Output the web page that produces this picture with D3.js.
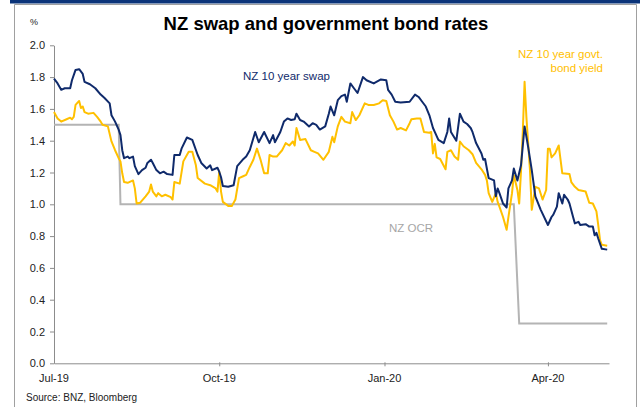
<html>
  <head>
    <script src="https://d3js.org/d3.v7.min.js"></script>
    <style>
      body { margin: 0; background: #fff; }
      text { font-family: Arial, "Liberation Sans", sans-serif; }
      .axis .domain { stroke: #8c8c8c; }
      .axis line { stroke: #8c8c8c; }
      .axis text { font-size: 11px; fill: #222; }
    </style>
  </head>
  <body>
    <svg id="chart" width="640" height="407"></svg>
    <script>
      // ---- data ----
      const swapDates = [
        "2019-07-01","2019-07-03","2019-07-05","2019-07-07","2019-07-10","2019-07-11","2019-07-13","2019-07-15","2019-07-17","2019-07-18","2019-07-21","2019-07-24","2019-07-27","2019-07-29",
        "2019-08-01","2019-08-02","2019-08-04","2019-08-06","2019-08-07","2019-08-08","2019-08-09","2019-08-11","2019-08-12","2019-08-14","2019-08-15","2019-08-17","2019-08-19","2019-08-21","2019-08-22","2019-08-24","2019-08-25","2019-08-27","2019-08-29","2019-08-31",
        "2019-09-02","2019-09-05","2019-09-06","2019-09-09","2019-09-10","2019-09-13","2019-09-16","2019-09-19","2019-09-21","2019-09-24","2019-09-26","2019-09-27","2019-09-30",
        "2019-10-01","2019-10-02","2019-10-03","2019-10-06","2019-10-09","2019-10-11","2019-10-14","2019-10-16","2019-10-18","2019-10-21","2019-10-23","2019-10-26","2019-10-29","2019-10-31",
        "2019-11-01","2019-11-04","2019-11-06","2019-11-08","2019-11-10","2019-11-12","2019-11-13","2019-11-15","2019-11-17","2019-11-20","2019-11-22","2019-11-24","2019-11-26","2019-11-29",
        "2019-12-01","2019-12-02","2019-12-04","2019-12-06","2019-12-08","2019-12-10","2019-12-11","2019-12-13","2019-12-15","2019-12-17","2019-12-20","2019-12-22","2019-12-26","2019-12-30",
        "2020-01-02","2020-01-03","2020-01-05","2020-01-07","2020-01-10","2020-01-15","2020-01-18","2020-01-20","2020-01-22","2020-01-24","2020-01-26","2020-01-28","2020-01-29","2020-01-31",
        "2020-02-03","2020-02-05","2020-02-06","2020-02-07","2020-02-10","2020-02-12","2020-02-14","2020-02-16","2020-02-18","2020-02-19","2020-02-21","2020-02-24","2020-02-25","2020-02-26","2020-02-28",
        "2020-03-02","2020-03-03","2020-03-04","2020-03-05","2020-03-07","2020-03-09","2020-03-10","2020-03-12","2020-03-13","2020-03-15","2020-03-17","2020-03-19","2020-03-21","2020-03-23","2020-03-25","2020-03-28",
        "2020-04-01","2020-04-03","2020-04-04","2020-04-06","2020-04-07","2020-04-09","2020-04-10","2020-04-12","2020-04-13","2020-04-15","2020-04-16","2020-04-18","2020-04-19","2020-04-22","2020-04-24","2020-04-26","2020-04-27","2020-04-28","2020-04-29",
        "2020-05-01","2020-05-04"
      ];
      const swapValues = [
        1.79,1.76,1.72,1.73,1.73,1.78,1.845,1.85,1.82,1.77,1.755,1.73,1.69,1.67,
        1.635,1.56,1.52,1.47,1.435,1.34,1.29,1.30,1.29,1.30,1.24,1.19,1.215,1.23,1.26,1.28,1.26,1.215,1.195,1.205,
        1.19,1.185,1.31,1.31,1.35,1.42,1.405,1.31,1.26,1.225,1.245,1.215,1.23,
        1.205,1.17,1.115,1.11,1.12,1.24,1.28,1.30,1.34,1.455,1.39,1.455,1.385,1.435,
        1.39,1.455,1.52,1.54,1.53,1.535,1.57,1.53,1.52,1.49,1.51,1.50,1.47,1.49,
        1.57,1.615,1.56,1.655,1.68,1.69,1.645,1.76,1.73,1.70,1.80,1.78,1.76,1.785,
        1.78,1.72,1.69,1.645,1.64,1.645,1.69,1.675,1.645,1.615,1.56,1.48,1.455,1.405,
        1.385,1.455,1.54,1.455,1.40,1.57,1.52,1.505,1.48,1.455,1.385,1.32,1.28,1.285,1.165,
        1.15,1.05,1.10,1.07,1.005,0.98,1.10,1.15,1.225,1.15,1.245,1.49,1.36,1.215,1.05,0.965,
        0.87,0.92,0.935,0.985,1.07,1.005,1.06,1.03,1.005,0.92,0.88,0.89,0.87,0.875,0.86,0.86,0.805,0.82,0.785,
        0.72,0.715
      ];

      const bondDates = [
        "2019-07-01","2019-07-03","2019-07-05","2019-07-08","2019-07-10","2019-07-11","2019-07-12","2019-07-13","2019-07-15","2019-07-16","2019-07-17","2019-07-18","2019-07-20","2019-07-23","2019-07-25","2019-07-27","2019-07-28","2019-07-31",
        "2019-08-02","2019-08-04","2019-08-06","2019-08-07","2019-08-08","2019-08-09","2019-08-11","2019-08-14","2019-08-15","2019-08-16","2019-08-18","2019-08-21","2019-08-23","2019-08-24","2019-08-25","2019-08-27","2019-08-28","2019-08-30",
        "2019-09-01","2019-09-04","2019-09-05","2019-09-06","2019-09-09","2019-09-11","2019-09-14","2019-09-16","2019-09-18","2019-09-19","2019-09-23","2019-09-26","2019-09-29","2019-09-30",
        "2019-10-01","2019-10-02","2019-10-03","2019-10-06","2019-10-08","2019-10-10","2019-10-12","2019-10-14","2019-10-16","2019-10-18","2019-10-20","2019-10-22","2019-10-24","2019-10-26","2019-10-28","2019-10-29","2019-10-31",
        "2019-11-02","2019-11-05","2019-11-07","2019-11-09","2019-11-11","2019-11-12","2019-11-13","2019-11-15","2019-11-18","2019-11-21","2019-11-23","2019-11-25","2019-11-28",
        "2019-12-01","2019-12-03","2019-12-04","2019-12-06","2019-12-08","2019-12-10","2019-12-13","2019-12-14","2019-12-16","2019-12-18","2019-12-21","2019-12-23","2019-12-26","2019-12-29","2019-12-31",
        "2020-01-02","2020-01-04","2020-01-06","2020-01-08","2020-01-10","2020-01-13","2020-01-15","2020-01-16","2020-01-19","2020-01-21","2020-01-23","2020-01-26","2020-01-27","2020-01-28","2020-01-29","2020-01-30",
        "2020-02-01","2020-02-04","2020-02-05","2020-02-07","2020-02-09","2020-02-11","2020-02-12","2020-02-14","2020-02-17","2020-02-19","2020-02-21","2020-02-24","2020-02-26","2020-02-27","2020-02-28",
        "2020-03-01","2020-03-03","2020-03-04","2020-03-05","2020-03-07","2020-03-09","2020-03-10","2020-03-12","2020-03-13","2020-03-15","2020-03-16","2020-03-17","2020-03-18","2020-03-19","2020-03-20","2020-03-22","2020-03-23","2020-03-25","2020-03-27","2020-03-29","2020-03-31",
        "2020-04-01","2020-04-02","2020-04-03","2020-04-05","2020-04-07","2020-04-09","2020-04-13","2020-04-14","2020-04-16","2020-04-18","2020-04-22","2020-04-24","2020-04-26","2020-04-28","2020-04-29","2020-04-30",
        "2020-05-01","2020-05-04"
      ];
      const bondValues = [
        1.58,1.54,1.52,1.535,1.545,1.535,1.55,1.625,1.65,1.605,1.615,1.58,1.57,1.575,1.55,1.52,1.50,1.49,
        1.395,1.34,1.29,1.27,1.195,1.14,1.135,1.15,1.10,1.005,1.01,1.05,1.08,1.125,1.08,1.05,1.07,1.05,
        1.06,1.045,1.03,1.14,1.13,1.27,1.33,1.33,1.245,1.165,1.13,1.12,1.10,1.08,
        1.205,1.08,1.015,0.99,0.99,1.03,1.165,1.175,1.185,1.235,1.28,1.35,1.28,1.195,1.195,1.31,1.30,
        1.30,1.34,1.385,1.37,1.395,1.37,1.48,1.405,1.41,1.34,1.33,1.32,1.28,
        1.33,1.425,1.39,1.49,1.55,1.52,1.51,1.58,1.53,1.56,1.635,1.625,1.625,1.635,1.655,
        1.65,1.56,1.52,1.47,1.48,1.465,1.51,1.535,1.54,1.54,1.455,1.45,1.455,1.32,1.38,1.295,
        1.285,1.22,1.33,1.34,1.30,1.28,1.395,1.365,1.34,1.315,1.26,1.22,1.185,1.15,1.07,
        1.015,1.07,1.015,0.985,0.92,0.84,0.92,1.07,1.185,1.09,1.005,1.205,1.455,1.77,1.55,1.215,0.965,1.11,1.10,1.03,1.09,
        1.35,1.35,1.295,1.32,1.37,1.195,1.19,1.14,1.11,1.09,1.08,1.01,1.005,0.955,0.87,0.775,
        0.745,0.74
      ];

      const ocrDates = ["2019-07-01","2019-08-06","2019-08-07","2020-03-13","2020-03-16","2020-05-04"];
      const ocrValues = [1.5, 1.5, 1.0, 1.0, 0.25, 0.25];

      const yTicks = [0, 0.2, 0.4, 0.6, 0.8, 1.0, 1.2, 1.4, 1.6, 1.8, 2.0];
      const xTickDates = ["2019-10-01", "2020-01-01", "2020-04-01"];
      const xLabelDates = ["2019-07-01", "2019-10-01", "2020-01-01", "2020-04-01"];
      const xDomain = ["2019-07-01", "2020-05-05"];

      // ---- setup ----
      const parse = d3.timeParse("%Y-%m-%d");
      const svg = d3.select("svg#chart");
      const plot = {left: 54, right: 609, top: 45.3, bottom: 363.3};

      const x = d3.scaleTime()
        .domain(xDomain.map(parse))
        .range([plot.left, plot.right]);
      const y = d3.scaleLinear()
        .domain([0, 2])
        .range([plot.bottom, plot.top]);

      // frame
      svg.append("rect").attr("x", 10).attr("y", 0).attr("width", 630).attr("height", 3.5).attr("fill", "#0b3479");
      svg.append("path")
        .attr("d", "M14.5,407 V4.5 H636.5 V407")
        .attr("fill", "none").attr("stroke", "#a0a0a0").attr("stroke-width", 1);

      // title etc
      svg.append("text").attr("x", 326).attr("y", 30)
        .attr("text-anchor", "middle").style("font-weight", "bold").style("font-size", "18.5px")
        .style("fill", "#000").text("NZ swap and government bond rates");
      svg.append("text").attr("x", 30).attr("y", 25).style("font-size", "9px").style("fill", "#222").text("%");
      svg.append("text").attr("x", 26).attr("y", 401).style("font-size", "10px").style("fill", "#222")
        .text("Source: BNZ, Bloomberg");

      // y axis
      svg.append("g").attr("class", "axis")
        .attr("transform", `translate(${plot.left},0)`)
        .call(d3.axisLeft(y).tickValues(yTicks).tickFormat(d3.format(".1f")).tickSizeInner(4).tickSizeOuter(0).tickPadding(5));

      // x axis
      const xAxisG = svg.append("g").attr("class", "axis")
        .attr("transform", `translate(0,${plot.bottom})`)
        .call(d3.axisBottom(x).tickValues(xTickDates.map(parse)).tickFormat("").tickSizeOuter(0));
      xAxisG.selectAll(".tick line").attr("y1", -1).attr("y2", 3);

      svg.append("g").selectAll("text")
        .data(xLabelDates.map(parse))
        .join("text")
        .attr("x", d => x(d))
        .attr("y", plot.bottom + 19)
        .attr("text-anchor", "middle")
        .style("font-size", "11px").style("fill", "#222")
        .text(d3.timeFormat("%b-%y"));

      // lines
      const line = d3.line().x(d => x(d[0])).y(d => y(d[1]));
      const toPts = (dates, vals) => dates.map((d, i) => [parse(d), vals[i]]);

      svg.append("path").datum(toPts(ocrDates, ocrValues))
        .attr("d", line).attr("fill", "none").attr("stroke", "#b4b4b4").attr("stroke-width", 2);
      svg.append("path").datum(toPts(bondDates, bondValues))
        .attr("d", line).attr("fill", "none").attr("stroke", "#ffc000").attr("stroke-width", 2)
        .attr("stroke-linejoin", "round");
      svg.append("path").datum(toPts(swapDates, swapValues))
        .attr("d", line).attr("fill", "none").attr("stroke", "#0f2a6b").attr("stroke-width", 2)
        .attr("stroke-linejoin", "round");

      // series labels
      svg.append("text").attr("x", 243).attr("y", 80).style("font-size", "11.5px").style("fill", "#0f2a6b")
        .text("NZ 10 year swap");
      svg.append("text").attr("x", 603).attr("y", 58).attr("text-anchor", "end").style("font-size", "11.5px").style("fill", "#ffc000")
        .text("NZ 10 year govt.");
      svg.append("text").attr("x", 603).attr("y", 72).attr("text-anchor", "end").style("font-size", "11.5px").style("fill", "#ffc000")
        .text("bond yield");
      svg.append("text").attr("x", 389).attr("y", 232).style("font-size", "11.5px").style("fill", "#a6a6a6")
        .text("NZ OCR");
    </script>
  </body>
</html>
